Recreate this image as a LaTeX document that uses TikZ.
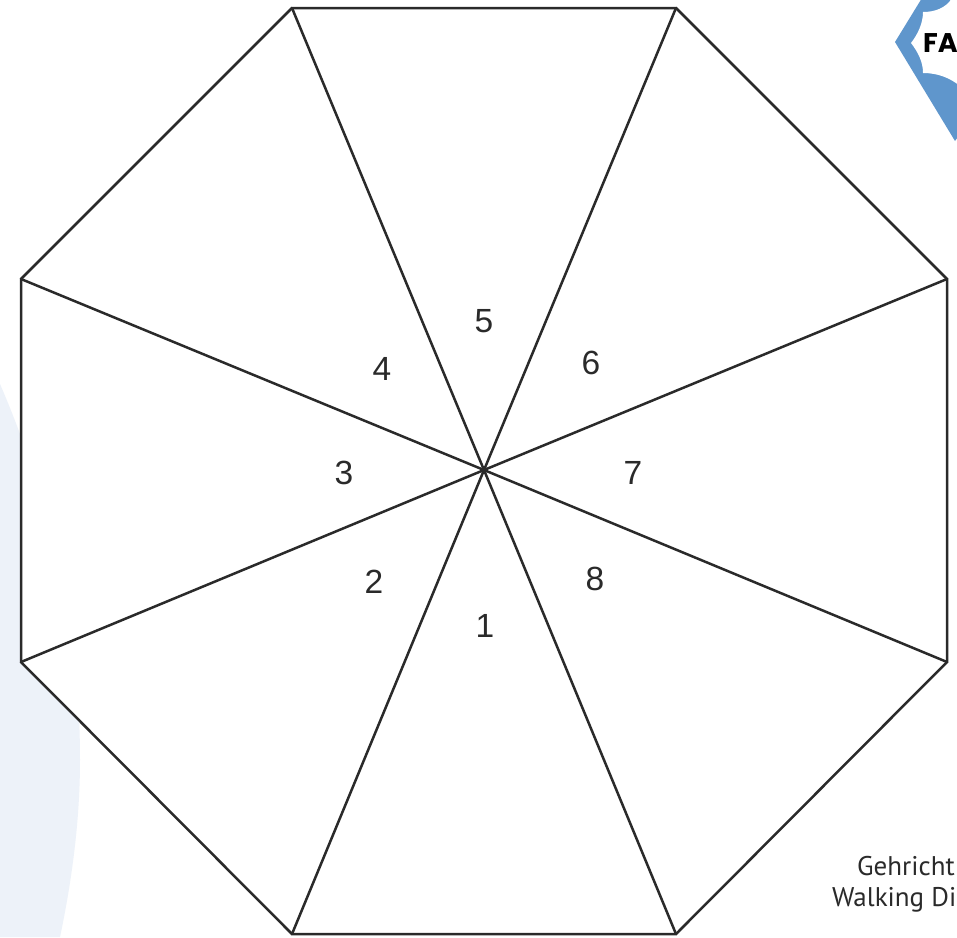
\documentclass[tikz,border=0pt]{standalone}
\usepackage{fontspec}
\setmainfont{Liberation Sans}
\newfontfamily\notefont{PT Sans}
\newfontfamily\logofont{Poppins}
\definecolor{tint}{HTML}{EDF2F9}
\definecolor{logoblue}{HTML}{5F96CC}
\definecolor{ink}{HTML}{2A2A2A}
\tikzset{
  edge/.style={draw=ink,line width=2.5pt,line join=miter,line cap=round},
  num/.style={text=ink,font=\fontsize{33.5}{33.5}\selectfont,inner sep=0pt},
  note/.style={text=ink,font=\notefont\fontsize{27}{27}\selectfont,inner sep=0pt,anchor=base west},
}
\begin{document}
\begin{tikzpicture}[x=1pt,y=-1pt]
\useasboundingbox (0,0) rectangle (957,937);
\clip (0,0) rectangle (957,937);
\fill[white] (0,0) rectangle (957,937);
% pale background arc
\fill[tint] (0,384) .. controls (52,505) and (80,630) .. (80,760) .. controls (80,820) and (72,880) .. (60,937) -- (0,937) -- cycle;
% logo
\fill[logoblue] (922,-2) -- (895,42) -- (955,141) -- (960,134) -- (960,-2) -- cycle;
\fill[white] (923,12) .. controls (935,12) and (946,8) .. (952,-2) -- (960,-2) -- (960,86)
  .. controls (950,78) and (938,73) .. (923,73) .. controls (923,62) and (918,52) .. (911,43)
  .. controls (918,34) and (923,23) .. (923,12) -- cycle;
\node[anchor=base west,inner sep=0pt,font=\logofont\bfseries\fontsize{27}{27}\selectfont,text=black] (logo) at (923,52) {FAI};
% octagon
\coordinate (v1) at (292,8);
\coordinate (v2) at (676,8);
\coordinate (v3) at (947,279);
\coordinate (v4) at (947,662);
\coordinate (v5) at (676,934);
\coordinate (v6) at (292,934);
\coordinate (v7) at (21,662);
\coordinate (v8) at (21,279);
\coordinate (hub) at (484,470);
\path[fill=white] (v1) -- (v2) -- (v3) -- (v4) -- (v5) -- (v6) -- (v7) -- (v8) -- cycle;
\draw[edge] (v1) -- (v2) -- (v3) -- (v4) -- (v5) -- (v6) -- (v7) -- (v8) -- cycle;
\foreach \v in {v1,v2,v3,v4,v5,v6,v7,v8} \draw[edge] (hub) -- (\v);
% numbers
\node[num] (n1) at (485,626) {1};
\node[num] (n2) at (374,582) {2};
\node[num] (n3) at (344,473) {3};
\node[num] (n4) at (382,369) {4};
\node[num] (n5) at (484,321) {5};
\node[num] (n6) at (591,363) {6};
\node[num] (n7) at (633,473) {7};
\node[num] (n8) at (595,579) {8};
% note
\node[note] (g1) at (857,875) {Gehricht};
\node[note] (g2) at (832,906) {Walking Di};
\end{tikzpicture}
\end{document}
